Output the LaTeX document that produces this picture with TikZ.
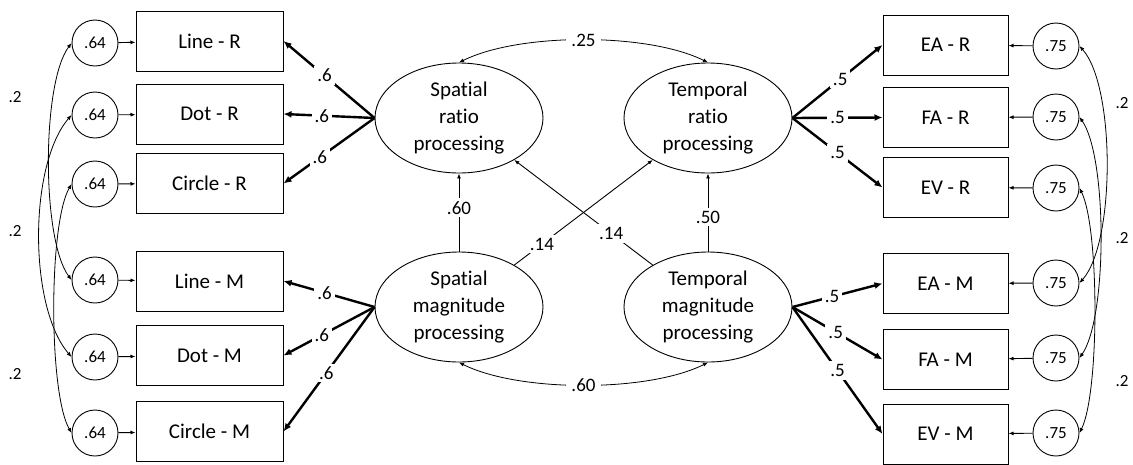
\documentclass[tikz,border=0pt]{standalone}
\usepackage{fontspec}
\setmainfont{Carlito}[Ligatures={NoCommon,NoContextual}]
\usetikzlibrary{shapes.geometric,arrows.meta}

\begin{document}
\begin{tikzpicture}[x=1pt,y=-1pt,
    obs/.style={draw,line width=1pt,minimum height=60pt,font=\fontsize{21}{24}\selectfont},
    lat/.style={draw,ellipse,line width=0.9pt,inner sep=0pt,minimum width=168pt,minimum height=110pt,align=center,font=\fontsize{21}{27}\selectfont},
    err/.style={draw,circle,line width=0.9pt,minimum size=46pt,inner sep=0pt,font=\fontsize{17}{18}\selectfont},
    lbl/.style={fill=white,inner sep=3pt,font=\fontsize{19}{20}\selectfont},
    side/.style={font=\fontsize{17}{18}\selectfont},
    load/.style={line width=2.4pt,-{Latex[length=8pt,width=7pt]}},
    path/.style={line width=0.9pt,-{Latex[length=5pt,width=4pt]}},
    cov/.style={line width=0.8pt,{Latex[length=5pt,width=4pt]}-{Latex[length=5pt,width=4pt]}}]
    \useasboundingbox (0,0) rectangle (1133,464);

    % latent factors
    \node[lat] (sr) at (459,118) {Spatial\\ratio\\processing};
    \node[lat] (tr) at (708,118) {Temporal\\ratio\\processing};
    \node[lat] (sm) at (459,307) {Spatial\\magnitude\\processing};
    \node[lat] (tm) at (708,307) {Temporal\\magnitude\\processing};

    % spatial indicators and errors
    \node[obs,minimum width=147pt] (lr) at (209.5,41) {Line - R};
    \node[obs,minimum width=147pt] (dr) at (209.5,114) {Dot - R};
    \node[obs,minimum width=147pt] (cr) at (209.5,183.5) {Circle - R};
    \node[obs,minimum width=147pt] (lm) at (209.5,281) {Line - M};
    \node[obs,minimum width=147pt] (dm) at (209.5,355.5) {Dot - M};
    \node[obs,minimum width=147pt] (cm) at (209.5,431.5) {Circle - M};
    \node[err] (e1) at (95,43) {.64};
    \node[err] (e2) at (95,115) {.64};
    \node[err] (e3) at (95,184) {.64};
    \node[err] (e4) at (95,280) {.64};
    \node[err] (e5) at (95,357) {.64};
    \node[err] (e6) at (95,433) {.64};

    % temporal indicators and errors
    \node[obs,minimum width=125pt] (ear) at (945.5,45) {EA - R};
    \node[obs,minimum width=125pt] (far) at (945.5,117.5) {FA - R};
    \node[obs,minimum width=125pt] (evr) at (945.5,187.5) {EV - R};
    \node[obs,minimum width=125pt] (eam) at (945.5,283.5) {EA - M};
    \node[obs,minimum width=125pt] (fam) at (945.5,359.5) {FA - M};
    \node[obs,minimum width=125pt] (evm) at (945.5,434) {EV - M};
    \node[err] (f1) at (1056,46) {.75};
    \node[err] (f2) at (1056,117) {.75};
    \node[err] (f3) at (1056,188) {.75};
    \node[err] (f4) at (1056,283) {.75};
    \node[err] (f5) at (1056,358) {.75};
    \node[err] (f6) at (1056,433) {.75};

    % error arrows
    \foreach \e/\b in {e1/lr,e2/dr,e3/cr,e4/lm,e5/dm,e6/cm,f1/ear,f2/far,f3/evr,f4/eam,f5/fam,f6/evm}
        \draw[path] (\e) -- (\b);

    % loadings
    \draw[load] (sr.west) -- node[lbl,pos=.55] {.6} (lr.east);
    \draw[load] (sr.west) -- node[lbl,pos=.58] {.6} (dr.east);
    \draw[load] (sr.west) -- node[lbl,pos=.6] {.6} (cr.east);
    \draw[load] (sm.west) -- node[lbl,pos=.55] {.6} (lm.east);
    \draw[load] (sm.west) -- node[lbl,pos=.58] {.6} (dm.east);
    \draw[load] (sm.west) -- node[lbl,pos=.53] {.6} (cm.east);
    \draw[load] (tr.east) -- node[lbl,pos=.53] {.5} (ear.west);
    \draw[load] (tr.east) -- node[lbl,pos=.5] {.5} (far.west);
    \draw[load] (tr.east) -- node[lbl,pos=.5] {.5} (evr.west);
    \draw[load] (tm.east) -- node[lbl,pos=.44] {.5} (eam.west);
    \draw[load] (tm.east) -- node[lbl,pos=.48] {.5} (fam.west);
    \draw[load] (tm.east) -- node[lbl,pos=.5] {.5} (evm.west);

    % structural paths
    \draw[path] (sm) -- node[lbl,pos=.56] {.60} (sr);
    \draw[path] (tm) -- node[lbl,pos=.44] {.50} (tr);
    \draw[path] (sm) -- node[lbl,pos=.2] {.14} (tr);
    \draw[path] (tm) -- node[lbl,pos=.3] {.14} (sr);

    % factor covariances
    \draw[cov] (sr.north) .. controls +(60,-30) and +(-60,-30) .. node[lbl,inner xsep=5pt] {.25} (tr.north);
    \draw[cov] (sm.south) .. controls +(60,30) and +(-60,30) .. node[lbl,inner xsep=5pt] {.60} (tm.south);

    % error covariances
    \draw[cov] (e1.west) .. controls +(-30,40) and +(-30,-40) .. (e4.west);
    \draw[cov] (e2.west) .. controls +(-43,50) and +(-43,-50) .. (e5.west);
    \draw[cov] (e3.west) .. controls +(-23,40) and +(-23,-40) .. (e6.west);
    \draw[cov] (f1.east) .. controls +(36,40) and +(36,-40) .. (f4.east);
    \draw[cov] (f2.east) .. controls +(28,40) and +(28,-40) .. (f5.east);
    \draw[cov] (f3.east) .. controls +(20,40) and +(20,-40) .. (f6.east);
    \node[side] (c1) at (15,97) {.2};
    \node[side] (c2) at (15,231) {.2};
    \node[side] (c3) at (15,374) {.2};
    \node[side] (c4) at (1122,103) {.2};
    \node[side] (c5) at (1122,238) {.2};
    \node[side] (c6) at (1122,381) {.2};
\end{tikzpicture}
\end{document}
